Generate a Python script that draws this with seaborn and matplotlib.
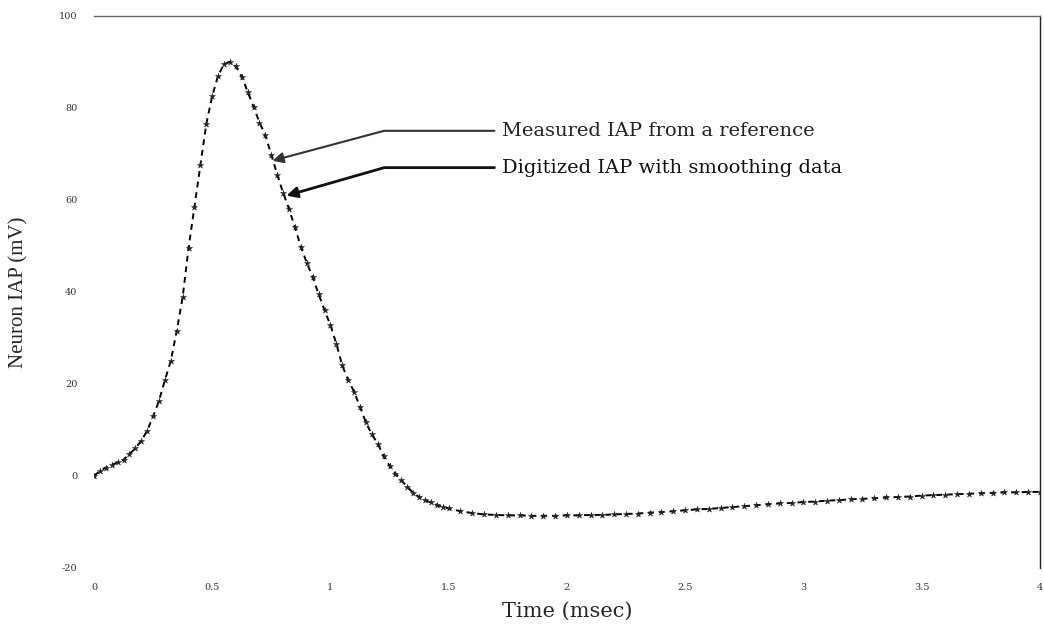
import matplotlib
matplotlib.use('Agg')
import matplotlib.pyplot as plt
import seaborn as sns
import numpy as np
import pandas as pd

# data
time_rise = [0.000, 0.025, 0.050, 0.075, 0.100, 0.125, 0.150, 0.175, 0.200, 0.225,
             0.250, 0.275, 0.300, 0.325, 0.350, 0.375, 0.400, 0.425, 0.450, 0.475,
             0.500, 0.525, 0.550, 0.575, 0.600, 0.625, 0.650, 0.675, 0.700, 0.725,
             0.750, 0.775, 0.800, 0.825, 0.850, 0.875, 0.900, 0.925, 0.950, 0.975,
             1.000, 1.025, 1.050, 1.075, 1.100, 1.125, 1.150, 1.175, 1.200, 1.225,
             1.250, 1.275, 1.300, 1.325, 1.350, 1.375, 1.400, 1.425, 1.450, 1.475]
iap_rise = [0.0, 1.0, 1.8, 2.4, 2.9, 3.5, 4.7, 6.0, 7.6, 9.8,
            12.9, 16.3, 20.8, 25.0, 31.5, 38.8, 49.5, 58.5, 67.5, 76.5,
            82.5, 87.0, 89.5, 90.0, 89.0, 86.8, 83.5, 80.2, 76.8, 74.0,
            69.8, 65.5, 61.5, 58.0, 54.0, 49.8, 46.3, 43.2, 39.5, 36.0,
            32.8, 28.7, 24.0, 20.8, 18.3, 15.0, 11.6, 9.0, 7.0, 4.3,
            2.2, 0.5, -1.0, -2.4, -3.7, -4.6, -5.3, -5.8, -6.3, -6.8]
time_tail = [1.50, 1.55, 1.60, 1.65, 1.70, 1.75, 1.80, 1.85, 1.90, 1.95,
             2.00, 2.05, 2.10, 2.15, 2.20, 2.25, 2.30, 2.35, 2.40, 2.45,
             2.50, 2.55, 2.60, 2.65, 2.70, 2.75, 2.80, 2.85, 2.90, 2.95,
             3.00, 3.05, 3.10, 3.15, 3.20, 3.25, 3.30, 3.35, 3.40, 3.45,
             3.50, 3.55, 3.60, 3.65, 3.70, 3.75, 3.80, 3.85, 3.90, 3.95, 4.00]
iap_tail = [-7.1, -7.7, -8.1, -8.4, -8.5, -8.6, -8.6, -8.7, -8.7, -8.7,
            -8.6, -8.6, -8.5, -8.5, -8.4, -8.3, -8.2, -8.0, -7.9, -7.7,
            -7.5, -7.3, -7.2, -7.0, -6.8, -6.6, -6.4, -6.2, -6.0, -5.9,
            -5.7, -5.6, -5.4, -5.3, -5.1, -5.0, -4.9, -4.7, -4.6, -4.5,
            -4.3, -4.2, -4.1, -4.0, -3.9, -3.8, -3.7, -3.6, -3.6, -3.5, -3.5]

x_ticks = [0, 0.5, 1, 1.5, 2, 2.5, 3, 3.5, 4]
x_tick_labels = ['0', '0.5', '1', '1.5', '2', '2.5', '3', '3.5', '4']
y_ticks = [-20, 0, 20, 40, 60, 80, 100]

df = pd.DataFrame({'time': time_rise + time_tail, 'iap': iap_rise + iap_tail})

sns.set_theme(style='white')
plt.rcParams['font.family'] = ['DejaVu Serif']
plt.rcParams['axes.unicode_minus'] = False

fig = plt.figure(figsize=(10.44, 6.33), dpi=100)
ax = fig.add_axes([0.090, 0.103, 0.906, 0.872])

sns.lineplot(data=df, x='time', y='iap', color='black', lw=1.4,
             linestyle=(0, (3, 2.5)), sort=False, ax=ax)
sns.scatterplot(data=df, x='time', y='iap', marker='*', s=22, color='#222222',
                edgecolor='#222222', linewidth=0.3, ax=ax, zorder=3)

ax.set_xlim(0, 4)
ax.set_ylim(-20, 100)
ax.set_xticks(x_ticks)
ax.set_xticklabels(x_tick_labels)
ax.set_yticks(y_ticks)
ax.tick_params(axis='both', length=0, labelsize=7, labelcolor='#333333')
ax.tick_params(axis='y', pad=12)
ax.tick_params(axis='x', pad=11)

for s in ['left', 'bottom']:
    ax.spines[s].set_visible(False)
ax.spines['top'].set_color('#666666')
ax.spines['top'].set_linewidth(1.0)
ax.spines['right'].set_color('#222222')
ax.spines['right'].set_linewidth(1.0)

ax.set_xlabel('Time (msec)', fontsize=15, labelpad=7)
ax.set_ylabel('Neuron IAP (mV)', fontsize=15, labelpad=22,
              family=['Liberation Serif', 'DejaVu Serif'])

ax.annotate('Measured IAP from a reference', xy=(0.755, 68.5), xytext=(1.725, 75),
            fontsize=14, va='center', ha='left', color='#222222',
            arrowprops=dict(arrowstyle='-|>', color='#333333', lw=1.5,
                            mutation_scale=16, relpos=(0, 0.5), shrinkA=3, shrinkB=0,
                            connectionstyle='angle,angleA=0,angleB=15,rad=0'))
ax.annotate('Digitized IAP with smoothing data', xy=(0.814, 60.9), xytext=(1.725, 67),
            fontsize=14, va='center', ha='left', color='#111111',
            arrowprops=dict(arrowstyle='-|>', color='#111111', lw=2.0,
                            mutation_scale=16, relpos=(0, 0.5), shrinkA=3, shrinkB=0,
                            connectionstyle='angle,angleA=0,angleB=16,rad=0'))

fig.savefig('out.png', dpi=100)
